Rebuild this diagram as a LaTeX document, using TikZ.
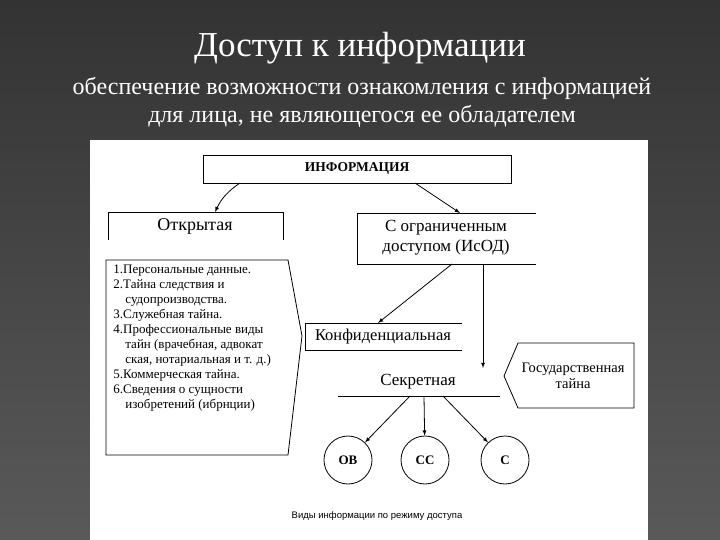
\documentclass[tikz,border=0pt]{standalone}
\usepackage{fontspec}
\setmainfont{Liberation Serif}
\newfontfamily\capfont{Liberation Sans}
\begin{document}
\begin{tikzpicture}[x=1pt,y=-1pt,line width=0.8pt,
  lbl/.style={font=\fontsize{17}{17}\selectfont,align=center,inner sep=0},
  arr/.style={-latex}]
\useasboundingbox (0,0) rectangle (720,540);
\shade[top color=black!80, bottom color=black!65] (0,0) rectangle (720,540);
\node[text=white,font=\fontsize{35}{38}\selectfont] (title) at (360,48) {Доступ к информации};
\node[text=white,font=\fontsize{24}{28}\selectfont,align=center] (sub) at (362,102) {обеспечение возможности ознакомления с информацией\\для лица, не являющегося ее обладателем};
\fill[white] (90,140) rectangle (648,540);
% ИНФОРМАЦИЯ
\draw (203,155) rectangle (511,183);
\node[lbl,font=\bfseries\fontsize{13.5}{15}\selectfont] (inf) at (357,168) {ИНФОРМАЦИЯ};
% Открытая
\draw (108,240) -- (108,212) -- (283,212) -- (283,240);
\node[lbl,font=\fontsize{18}{18}\selectfont] (open) at (195,226) {Открытая};
\coordinate (i1) at (240,183); \coordinate (o1) at (215,212);
\draw[arr] (i1) to[bend right=15] (o1);
% Ограниченный
\draw (536,213) -- (357,213) -- (357,264) -- (536,264);
\node[lbl,font=\fontsize{17}{20}\selectfont] (lim) at (446,238) {С ограниченным\\доступом (ИсОД)};
\coordinate (i2) at (415,183); \coordinate (l1) at (460,213);
\draw[arr] (i2) -- (l1);
% list
\draw (106,260) -- (288,260) -- (302,336) -- (288,455) -- (106,455) -- cycle;
\node[font=\fontsize{13}{14.9}\selectfont,align=left,anchor=north west,inner sep=0] (list) at (113,265)
{1.Персональные данные.\\2.Тайна следствия и\\\hspace*{12pt}судопроизводства.\\3.Служебная тайна.\\4.Профессиональные виды\\\hspace*{12pt}тайн (врачебная, адвокат\\\hspace*{12pt}ская, нотариальная и т. д.)\\5.Коммерческая тайна.\\6.Сведения о сущности\\\hspace*{12pt}изобретений (ибрнции)};
% Конфиденциальная
\draw (462,323) -- (305,323) -- (305,350) -- (462,350);
\node[lbl,font=\fontsize{16.5}{17}\selectfont] (conf) at (383,337) {Конфиденциальная};
\coordinate (l2) at (452,264); \coordinate (c1) at (378,323);
\draw[arr] (l2) -- (c1);
% Секретная
\node[lbl,font=\fontsize{17}{17}\selectfont] (sec) at (418,382) {Секретная};
\coordinate (s1) at (338,396); \coordinate (s2) at (500,396);
\draw (s1) -- (s2);
\coordinate (l3) at (483,264); \coordinate (sa) at (483,368);
\draw[arr] (l3) -- (sa);
% Гос тайна
\draw (518,343) -- (634,343) -- (634,408) -- (518,408) -- (504,376) -- cycle;
\node[lbl,font=\fontsize{14.5}{16}\selectfont] (gos) at (573,376) {Государственная\\тайна};
% circles
\tikzset{circ/.style={draw,circle,minimum size=48pt,font=\bfseries\fontsize{13}{14}\selectfont}}
\node[circ] (ov) at (348,460) {ОВ};
\node[circ] (cc) at (425,460) {СС};
\node[circ] (c) at (505,460) {С};
\coordinate (t1) at (410,396); \coordinate (t2) at (424,396); \coordinate (t3) at (443,396);
\draw[arr] (t1) -- (ov);
\draw[arr] (t2) -- (cc);
\draw[arr] (t3) -- (c);
\node[font=\capfont\fontsize{9.5}{10}\selectfont] (cap) at (377,516) {Виды информации по режиму доступа};
\end{tikzpicture}
\end{document}
